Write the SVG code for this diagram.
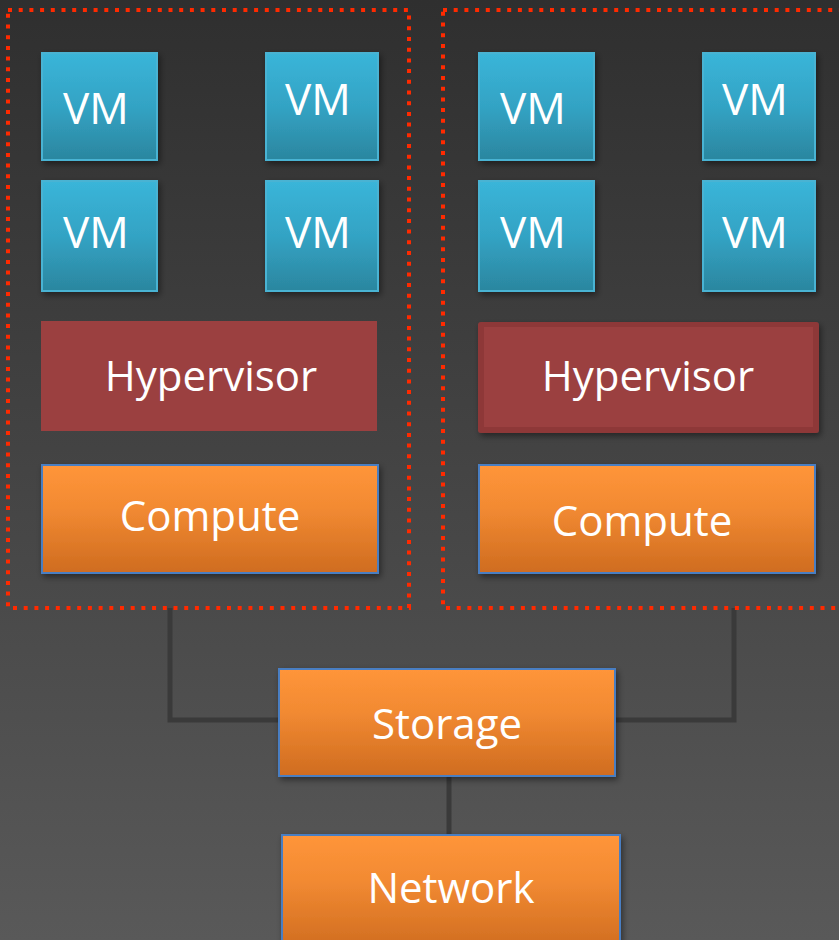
<svg xmlns="http://www.w3.org/2000/svg" width="839" height="940" viewBox="0 0 839 940">
<defs>
<linearGradient id="bg" x1="0" y1="0" x2="0" y2="1"><stop offset="0" stop-color="#2f2f2f"/><stop offset="1" stop-color="#595959"/></linearGradient>
<linearGradient id="vmg" x1="0" y1="0" x2="0" y2="1"><stop offset="0" stop-color="#3ab5d9"/><stop offset="0.5" stop-color="#33a3c4"/><stop offset="1" stop-color="#2b869f"/></linearGradient>
<linearGradient id="org" x1="0" y1="0" x2="0" y2="1"><stop offset="0" stop-color="#ff953a"/><stop offset="0.4" stop-color="#f28a32"/><stop offset="1" stop-color="#cf6c20"/></linearGradient>
<filter id="sh" x="-10%" y="-10%" width="130%" height="130%"><feDropShadow dx="2" dy="3" stdDeviation="3" flood-color="#000" flood-opacity="0.45"/></filter>
</defs>
<style>
.vm{fill:url(#vmg);stroke:#48b3d3;stroke-width:2;filter:url(#sh)}
.org{fill:url(#org);stroke:#4a7ec2;stroke-width:2;filter:url(#sh)}
.hyp{fill:#9b4040}
.grp{fill:none;stroke:#ff2a00;stroke-width:4;stroke-dasharray:4 6.7}
.conn{fill:none;stroke:#3a3a3a;stroke-width:5}
text{font-family:"Open Sans","Noto Sans",sans-serif;fill:#fff;text-anchor:middle}
.t1{font-size:44px}
.t2{font-size:42px}
</style>
<rect width="839" height="940" fill="url(#bg)"/>
<g id="connectors">
<path class="conn" d="M170 608 V720 H279"/>
<path class="conn" d="M734 608 V720 H615"/>
<path class="conn" d="M449 776 V835"/>
</g>
<g id="host1">
<rect class="grp" x="8" y="10" width="401" height="598"/>
</g>
<g id="host2">
<rect class="grp" x="443" y="10" width="400" height="598"/>
</g>
<g id="vm1"><rect class="vm" x="42" y="53" width="115" height="107"/><text class="t1" x="96" y="124">VM</text></g>
<g id="vm2"><rect class="vm" x="266" y="53" width="112" height="107"/><text class="t1" x="318" y="115">VM</text></g>
<g id="vm3"><rect class="vm" x="42" y="181" width="115" height="110"/><text class="t1" x="96" y="248">VM</text></g>
<g id="vm4"><rect class="vm" x="266" y="181" width="112" height="110"/><text class="t1" x="318" y="248">VM</text></g>
<g id="vm5"><rect class="vm" x="479" y="53" width="115" height="107"/><text class="t1" x="533" y="124">VM</text></g>
<g id="vm6"><rect class="vm" x="703" y="53" width="112" height="107"/><text class="t1" x="755" y="115">VM</text></g>
<g id="vm7"><rect class="vm" x="479" y="181" width="115" height="110"/><text class="t1" x="533" y="248">VM</text></g>
<g id="vm8"><rect class="vm" x="703" y="181" width="112" height="110"/><text class="t1" x="755" y="248">VM</text></g>
<g id="hyp1"><rect class="hyp" x="41" y="321" width="336" height="110"/><text class="t2" x="211" y="391">Hypervisor</text></g>
<g id="hyp2"><rect x="478" y="322" width="341" height="111" rx="3" fill="#8e3939" filter="url(#sh)"/><rect class="hyp" x="484" y="327" width="329" height="100"/><text class="t2" x="648" y="391">Hypervisor</text></g>
<g id="compute1"><rect class="org" x="42" y="465" width="336" height="108"/><text class="t2" x="210" y="531">Compute</text></g>
<g id="compute2"><rect class="org" x="479" y="465" width="336" height="108"/><text class="t2" x="642" y="536">Compute</text></g>
<g id="storage"><rect class="org" x="279" y="669" width="336" height="107"/><text class="t2" x="447" y="739">Storage</text></g>
<g id="network"><rect class="org" x="282" y="835" width="338" height="115"/><text class="t2" x="451" y="903">Network</text></g>
</svg>
